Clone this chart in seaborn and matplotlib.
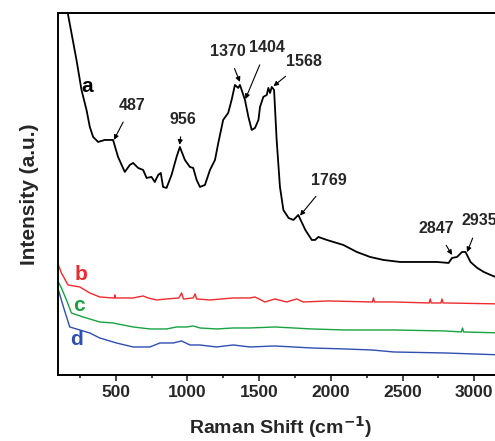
import numpy as np
import matplotlib
matplotlib.use("Agg")
import matplotlib.pyplot as plt
from matplotlib.ticker import MultipleLocator
import seaborn as sns

# Raman spectra, intensity in arbitrary units
wn_a = [120, 165, 191, 226, 261, 296, 319, 342, 377, 423, 481, 516, 563, 598, 621, 656, 691,
        715, 749, 772, 796, 814, 830, 854, 889, 924, 947, 982, 1017, 1040, 1064, 1087, 1122,
        1157, 1192, 1215, 1249, 1284, 1308, 1331, 1354, 1366, 1378, 1401, 1425, 1448, 1471,
        1495, 1506, 1529, 1553, 1564, 1576, 1588, 1604, 1622, 1645, 1669, 1705, 1739, 1773,
        1822, 1867, 1890, 1913, 1972, 2087, 2181, 2274, 2367, 2483, 2623, 2740, 2821, 2845,
        2880, 2915, 2939, 2974, 3021, 3067, 3114, 3149, 3200]
int_a = [400, 362, 342, 315, 285, 265, 248, 238, 233, 235, 235, 218, 203, 210, 212, 207, 205,
         197, 198, 193, 200, 202, 188, 187, 200, 218, 228, 215, 208, 207, 195, 188, 190,
         205, 215, 232, 255, 262, 275, 290, 287, 290, 285, 275, 258, 245, 247,
         255, 268, 278, 280, 287, 282, 288, 285, 235, 188, 165, 157, 155, 160,
         145, 135, 135, 138, 135, 130, 123, 118, 115, 113, 113, 113, 112, 117,
         118, 123, 123, 113, 107, 103, 100, 98, 96]

wn_b = [100, 121, 167, 249, 319, 388, 481, 490, 493, 497, 621, 691, 726, 784, 854, 940, 959,
        972, 1040, 1053, 1064, 1157, 1319, 1436, 1471, 1540, 1610, 1692, 1762, 1808, 1983,
        2290, 2297, 2304, 2437, 2686, 2693, 2700, 2768, 2775, 2782, 2798, 3200]
int_b = [110, 102, 90, 88, 82, 78, 77, 77, 80, 77, 77, 79, 77, 75, 76, 77, 82,
         76, 77, 81, 76, 75, 77, 77, 78, 73, 76, 73, 76, 73, 74,
         73, 77, 73, 73, 72, 76, 72, 72, 76, 72, 72, 71]

wn_c = [100, 121, 156, 191, 272, 388, 481, 621, 738, 854, 924, 994, 1040, 1087, 1203, 1319,
        1436, 1610, 1867, 2099, 2437, 2798, 2910, 2918, 2926, 3200]
int_c = [93, 87, 75, 62, 58, 53, 52, 48, 46, 46, 48, 48, 49, 47, 46, 47,
         47, 48, 46, 45, 45, 44, 43, 47, 43, 42]

wn_d = [100, 135, 179, 249, 319, 388, 505, 621, 738, 808, 900, 959, 1017, 1087, 1203, 1319,
        1436, 1610, 1867, 2099, 2286, 2437, 2798, 3200]
int_d = [85, 68, 48, 45, 42, 37, 32, 28, 28, 32, 32, 34, 30, 30, 28, 30,
         28, 29, 27, 26, 25, 23, 22, 20]

# peak labels on spectrum a: (label, wavenumber of arrow tip, offset of text in points)
peak_labels = ["487", "956", "1370", "1404", "1568", "1769", "2847", "2935"]
peak_wn = [487, 945, 1366, 1404, 1600, 1785, 2845, 2950]
peak_offsets = [(13, 25), (2.5, 18.5), (-9, 22), (15.5, 37), (22, 18), (21, 25.5), (-11.5, 19), (9, 22.5)]

sns.set_style("ticks")
plt.rcParams["font.family"] = ["Liberation Sans", "DejaVu Sans"]

fig = plt.figure(figsize=(4.95, 4.41), dpi=100)
ax = fig.add_axes([0.118, 0.1497, 0.898, 0.821])

sns.lineplot(x=wn_a, y=int_a, color="black", lw=1.3, ax=ax)
sns.lineplot(x=wn_b, y=int_b, color="#ee2a2e", lw=1.0, ax=ax)
sns.lineplot(x=wn_c, y=int_c, color="#16a340", lw=1.0, ax=ax)
sns.lineplot(x=wn_d, y=int_d, color="#2e4eb2", lw=1.0, ax=ax)

for lab, x, off in zip(peak_labels, peak_wn, peak_offsets):
    y = np.interp(x, wn_a, int_a) + 3
    ax.annotate(lab, xy=(x, y), xytext=off, textcoords="offset points",
                ha="center", va="center", fontsize=11.5, fontweight="bold",
                arrowprops=dict(arrowstyle="-|>", color="black", lw=0.8,
                                mutation_scale=7, shrinkA=5, shrinkB=0))

ax.text(300, 288, "a", color="black", fontsize=15, fontweight="bold", ha="center", va="center")
ax.text(257, 100, "b", color="#ee2a2e", fontsize=15, fontweight="bold", ha="center", va="center")
ax.text(242, 69, "c", color="#16a340", fontsize=15, fontweight="bold", ha="center", va="center")
ax.text(226, 35, "d", color="#2e4eb2", fontsize=15, fontweight="bold", ha="center", va="center")

ax.set_xlim(100, 3200)
ax.set_ylim(0, 362)
ax.set_yticks([])
ax.xaxis.set_major_locator(MultipleLocator(500))
ax.xaxis.set_minor_locator(MultipleLocator(250))
ax.tick_params(axis="x", which="major", direction="out", length=4.5, width=1.2,
               labelsize=12.5, pad=3)
ax.tick_params(axis="x", which="minor", direction="out", length=2.5, width=1.2)
for lab in ax.get_xticklabels():
    lab.set_fontweight("bold")
for sp in ax.spines.values():
    sp.set_visible(True)
    sp.set_linewidth(1.4)
    sp.set_color("black")

ax.set_xlabel("Raman Shift (cm$^{\\mathbf{-1}}$)", fontsize=14, fontweight="bold", labelpad=10)
ax.set_ylabel("Intensity (a.u.)", fontsize=15, fontweight="bold", labelpad=14)

fig.savefig("out.png", dpi=100)
